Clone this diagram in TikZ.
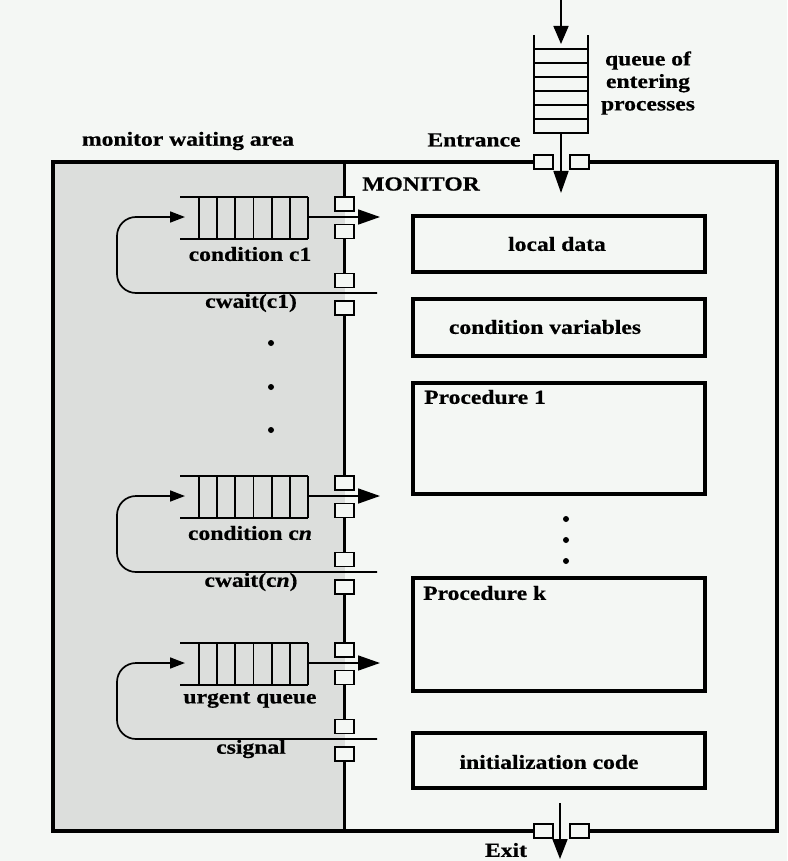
\documentclass[tikz,border=0pt]{standalone}
\usepackage{fontspec}
\setmainfont{Liberation Serif}[FakeStretch=1.18, BoldFeatures={FakeBold=0.6}, BoldItalicFeatures={FakeBold=0.6}]
\usetikzlibrary{arrows.meta}
\definecolor{bgc}{HTML}{F4F7F4}
\definecolor{waitc}{HTML}{DCDEDC}
\begin{document}
\begin{tikzpicture}[x=1pt,y=-1pt,
  txt/.style={font=\fontsize{20}{22.5}\selectfont\bfseries, inner sep=0pt},
  thickln/.style={line width=3.2pt},
  thinln/.style={line width=1.7pt},
  boxln/.style={draw, line width=3.2pt, inner sep=0pt},
  port/.style={draw, line width=1.5pt, fill=bgc, minimum width=19pt, minimum height=14pt, inner sep=0pt},
  bigtip/.style={-{Triangle[length=22pt,width=15pt]}},
  smalltip/.style={-{Triangle[length=15pt,width=11pt]}},
  dot/.style={circle, fill=black, inner sep=0pt, minimum size=6pt}]
\useasboundingbox (0,0) rectangle (787,861);
\fill[bgc] (0,0) rectangle (787,861);
% waiting area
\fill[waitc] (53,162) rectangle (344.5,831);
% entrance / exit ports
\node[port] (e1) at (543.5,162) {};
\node[port] (e2) at (579.5,162) {};
\node[port] (x1) at (543.5,831) {};
\node[port] (x2) at (579.5,831) {};
\coordinate (tl) at (53,162);
\coordinate (tr) at (777,162);
\coordinate (bl) at (53,831);
\coordinate (br) at (777,831);
\draw[thickln] (e1.west) -- (tl) -- (bl) -- (x1.west);
\draw[thickln] (e2.east) -- (tr) -- (br) -- (x2.east);
% entering queue
\draw[thinln] (534,35) -- (534,133) -- (588,133) -- (588,35);
\foreach \yy in {49,63,77,91,105,119} \draw[thinln] (534,\yy) -- (588,\yy);
\coordinate (src) at (561,0);
\coordinate (eqin) at (561,44);
\coordinate (eqout) at (561,133);
\coordinate (ent) at (561,193);
\draw[thinln, -{Triangle[length=18pt,width=15pt]}] (src) -- (eqin);
\draw[thinln, bigtip] (eqout) -- (ent);
\coordinate (exs) at (560,803);
\coordinate (exe) at (560,859);
\draw[thinln, -{Triangle[length=20pt,width=15pt]}] (exs) -- (exe);
% labels top
\node[txt, align=center] (qlab) at (648,83) {queue of\\entering\\processes};
\node[txt] (entl) at (474,140) {Entrance};
\node[txt] (mwa) at (188,141) {monitor waiting area};
\node[txt, anchor=west] (mon) at (362,184) {MONITOR};
\node[txt] (exl) at (506,850) {Exit};
% right boxes
\node[boxln, minimum width=292pt, minimum height=56pt] (ld) at (559,244) {};
\node[txt] at (557,244) {local data};
\node[boxln, minimum width=292pt, minimum height=57pt] (cv) at (559,327.5) {};
\node[txt] at (545,327) {condition variables};
\node[boxln, minimum width=292pt, minimum height=111pt] (p1) at (559,438.5) {};
\node[txt, anchor=west] at (424,397) {Procedure 1};
\node[boxln, minimum width=292pt, minimum height=113pt] (pk) at (559,634.5) {};
\node[txt, anchor=west] at (423,593) {Procedure k};
\node[boxln, minimum width=292pt, minimum height=55pt] (ic) at (559,760.5) {};
\node[txt] at (549,762) {initialization code};
\foreach \yy in {519,540,561} \node[dot] at (566,\yy) {};
\foreach \yy in {343,387,430} \node[dot] at (271,\yy) {};
% condition groups
\foreach \t/\n/\qa/\qb in {197/1/{condition c1}/{cwait(c1)}, 476/2/{condition c\textit{n}}/{cwait(c\textit{n})}, 643/3/{urgent queue}/{csignal}}{
  \draw[thinln] (180,\t) -- (308,\t);
  \draw[thinln] (180,\t+42) -- (308,\t+42);
  \foreach \xx in {199,217.2,235.3,253.5,271.7,289.8,308} \draw[thinln] (\xx,\t) -- (\xx,\t+42);
  \node[port] (p\n-1) at (344.5,\t+7) {};
  \node[port] (p\n-2) at (344.5,\t+34.5) {};
  \node[port] (p\n-3) at (344.5,\t+83.5) {};
  \node[port] (p\n-4) at (344.5,\t+111) {};
  \coordinate (qo\n) at (308,\t+20);
  \coordinate (qt\n) at (380,\t+20);
  \coordinate (cw\n) at (377,\t+96);
  \coordinate (qi\n) at (185,\t+20);
  \draw[thinln, bigtip] (qo\n) -- (qt\n);
  \draw[thinln, smalltip, rounded corners=19pt] (cw\n) -- (117,\t+96) -- (117,\t+20) -- (qi\n);
  \node[txt] at (250,\t+57) {\qa};
  \node[txt] at (251,\t+106) {\qb};
}
% divider
\coordinate (dtop) at (344.5,162);
\coordinate (dbot) at (344.5,831);
\draw[thickln] (dtop) -- (p1-1.north);
\draw[thickln] (p1-2.south) -- (p1-3.north);
\draw[thickln] (p1-4.south) -- (p2-1.north);
\draw[thickln] (p2-2.south) -- (p2-3.north);
\draw[thickln] (p2-4.south) -- (p3-1.north);
\draw[thickln] (p3-2.south) -- (p3-3.north);
\draw[thickln] (p3-4.south) -- (dbot);
\end{tikzpicture}
\end{document}
